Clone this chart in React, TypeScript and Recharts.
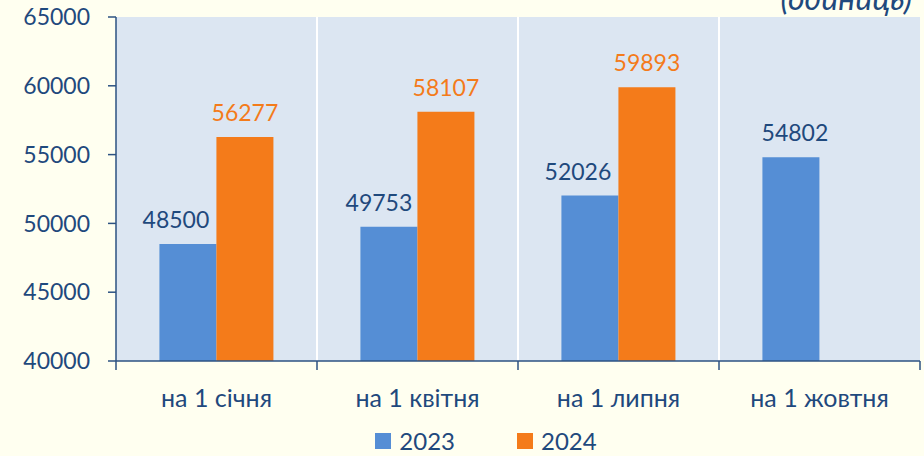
import { BarChart, Bar, XAxis, YAxis, CartesianGrid, Legend, LabelList } from 'recharts'

const categories = ['на 1 січня', 'на 1 квітня', 'на 1 липня', 'на 1 жовтня']
const values2023 = [48500, 49753, 52026, 54802]
const values2024: (number | null)[] = [56277, 58107, 59893, null]
const yTicks = [40000, 45000, 50000, 55000, 60000, 65000]
// labels of 2023 sit slightly left of the bar in the source picture
const shift2023 = [-12, -10, -12, 4]

const W = 924
const H = 456
const LEFT = 116
const RIGHT = 4
const BAND = (W - LEFT - RIGHT) / categories.length

const TXT = '#1f497d'
const AXIS = '#2c5282'
const BLUE = '#558ed5'
const ORANGE = '#f47b1a'
const FONT = 'Lato, "Open Sans", sans-serif'

const data = categories.map((c, i) => ({
  name: c,
  y2023: values2023[i],
  y2024: values2024[i],
}))

if (typeof document !== 'undefined') {
  document.body.style.margin = '0'
  document.body.style.background = '#fffff0'
}

function XTick(props: any) {
  const { x, y, payload, index } = props
  const last = index === categories.length - 1
  return (
    <g>
      <line x1={x - BAND / 2} x2={x - BAND / 2} y1={y} y2={y + 9} stroke={AXIS} strokeWidth={1.5} />
      {last && <line x1={x + BAND / 2} x2={x + BAND / 2} y1={y} y2={y + 9} stroke={AXIS} strokeWidth={1.5} />}
      <text x={x} y={y + 36} textAnchor="middle" dominantBaseline="central" fill={TXT} fontSize={25} fontFamily={FONT}>
        {payload.value}
      </text>
    </g>
  )
}

function Label2023(props: any) {
  const { x, y, width, value, index } = props
  return (
    <text x={x + width / 2 + (shift2023[index] ?? 0)} y={y - 16} textAnchor="middle" fill={TXT} fontSize={23} fontFamily={FONT}>
      {value}
    </text>
  )
}

function LegendBox() {
  const items = [
    { label: '2023', color: BLUE },
    { label: '2024', color: ORANGE },
  ]
  return (
    <div style={{ display: 'flex', justifyContent: 'center', gap: 62, marginLeft: 52, paddingTop: 20, fontFamily: FONT, fontSize: 24, color: TXT }}>
      {items.map(it => (
        <div key={it.label} style={{ display: 'flex', alignItems: 'center', gap: 8 }}>
          <span style={{ display: 'inline-block', width: 16, height: 16, background: it.color }} />
          <span>{it.label}</span>
        </div>
      ))}
    </div>
  )
}

export default function App() {
  return (
    <div style={{ position: 'relative', width: W, height: H, overflow: 'hidden', background: '#fffff0' }}>
      <div style={{ position: 'absolute', right: 12, top: -17, lineHeight: '30px', fontFamily: FONT, fontStyle: 'italic', fontSize: 32, color: TXT }}>
        (одиниць)
      </div>
      <BarChart
        width={W}
        height={H}
        data={data}
        margin={{ top: 17, right: RIGHT, left: 0, bottom: 0 }}
        barCategoryGap="21.6%"
        barGap={0}
      >
        <CartesianGrid
          fill="#dce6f2"
          stroke="#ffffff"
          strokeWidth={2}
          horizontal={false}
          verticalCoordinatesGenerator={({ offset }: any) =>
            [1, 2, 3].map(i => offset.left + (i * offset.width) / 4)
          }
        />
        <XAxis
          dataKey="name"
          height={45}
          axisLine={{ stroke: AXIS, strokeWidth: 1.5 }}
          tickLine={false}
          tickSize={0}
          tickMargin={0}
          tick={<XTick />}
          interval={0}
        />
        <YAxis
          width={LEFT}
          domain={[40000, 65000]}
          ticks={yTicks}
          axisLine={{ stroke: AXIS, strokeWidth: 1.5 }}
          tickLine={{ stroke: AXIS, strokeWidth: 1.5 }}
          tickSize={8}
          tickMargin={18}
          tick={{ fill: TXT, fontSize: 23, fontFamily: FONT }}
          allowDataOverflow
        />
        <Legend verticalAlign="bottom" height={50} content={() => <LegendBox />} />
        <Bar dataKey="y2023" fill={BLUE} isAnimationActive={false}>
          <LabelList dataKey="y2023" content={<Label2023 />} />
        </Bar>
        <Bar dataKey="y2024" fill={ORANGE} isAnimationActive={false}>
          <LabelList dataKey="y2024" position="top" offset={16} fill={ORANGE} fontSize={23} fontFamily={FONT} />
        </Bar>
      </BarChart>
    </div>
  )
}
